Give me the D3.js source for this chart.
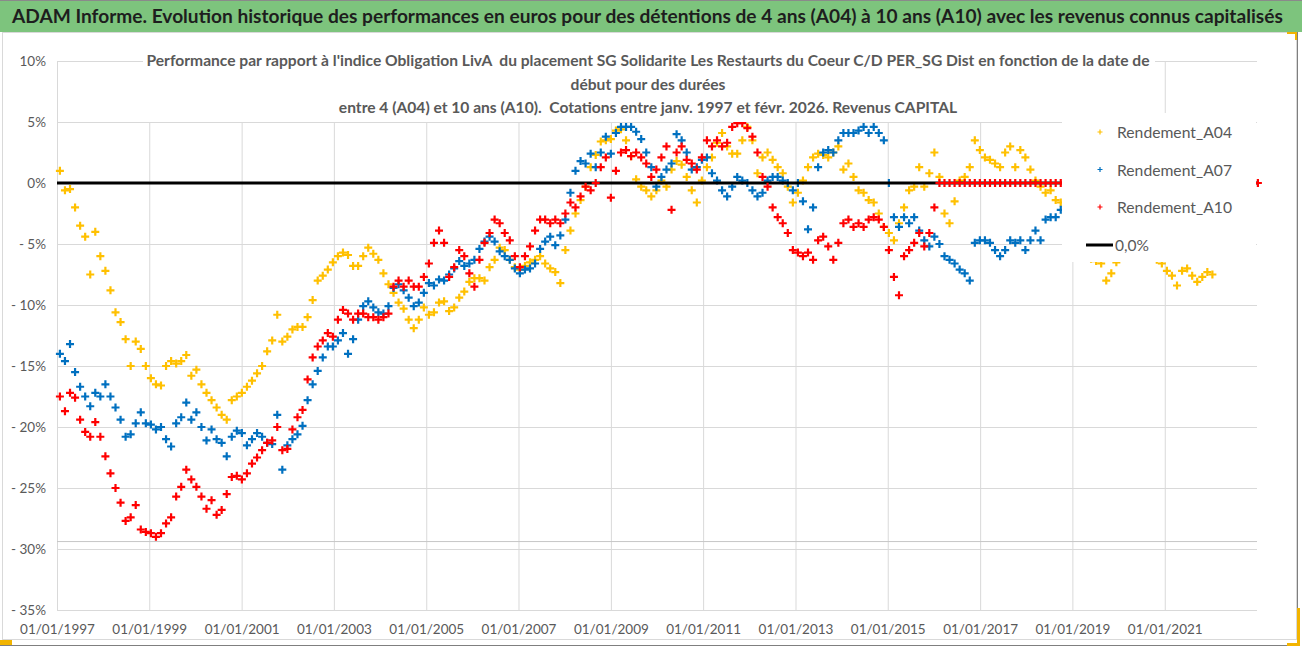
<!DOCTYPE html>
<html>
<head>
<meta charset="utf-8">
<script src="https://cdn.jsdelivr.net/npm/d3@7"></script>
<style>
  body { margin: 0; background: #fff; }
  svg { display: block; font-family: Lato, 'Open Sans', sans-serif; }
</style>
</head>
<body>
<div id="chart"></div>
<script>
// samples every 40 days from 24/01/1997 (start date of the holding), values in %
const sampleStart = new Date(1997, 0, 24);
const sampleStepDays = 40;

const rendementA04 = [
  1.0, -0.6, -0.5, -2.0, -3.5, -4.4, -7.5, -4.0, -6.0, -7.2,
  -8.8, -10.6, -11.4, -12.8, -15.0, -13.0, -13.6, -15.0, -16.0, -16.5,
  -16.6, -15.0, -14.6, -14.8, -14.6, -14.1, -15.8, -15.3, -16.5, -17.2,
  -17.8, -18.4, -19.0, -19.4, -17.8, -17.5, -17.2, -16.7, -16.2, -15.6,
  -15.0, -13.8, -12.9, -10.8, -13.0, -12.6, -12.0, -11.8, -11.8,
  -11.0, -9.6, -8.0, -7.6, -7.1, -6.5, -6.0, -5.7, -5.9, -6.8,
  -6.8, -6.0, -5.3, -5.8, -6.3, -7.4, -8.3, -9.0, -9.8, -10.3,
  -11.2, -11.9, -11.2, -10.2, -10.8, -10.6, -9.8, -9.7, -10.5, -10.2,
  -9.4, -8.9, -8.1, -7.8, -7.8, -8.0, -6.9, -6.3, -5.3, -5.5,
  -6.3, -6.9, -7.1, -6.8, -6.5, -6.3, -6.0, -6.6, -7.0, -7.3,
  -8.2, -5.5, -3.9, -2.5, -1.4, -0.3, 1.3, 2.3, 3.4, 3.5,
  3.6, 4.3, 4.4, 3.5, 2.2, 0.3, -0.3, -0.6, -1.1, -0.6,
  0.2, -0.3, 1.1, 1.8, 1.5, 0.5, -0.6, -1.6, 0.2, 1.3,
  2.1, 3.3, 4.1, 3.0, 2.4, 2.4, 3.5, 4.6, 3.5, 0.8,
  2.1, 2.5, 1.9, 1.3, 0.8, -0.3, -1.6, -0.8, 0.2,
  1.3, 2.1, 2.4, 2.3, 2.1, 2.5, 3.0, 1.1, 1.6, 0.5,
  -0.6, -0.8, -1.4, -1.6, -2.5, -3.6, -4.1, -4.7, -3.3, -2.0,
  -0.6, -0.3, 1.3, -0.3, 0.8, 2.5, 0.5, -2.5, -3.3, -1.5,
  0.2, 0.5, 1.3, 3.5, 2.7, 2.1, 1.9, 1.6, 1.3, 2.5,
  3.0, 1.3, 2.7, 2.1, 1.1, 0.2, -0.3, -0.8, -0.6, -1.4,
  -1.6, -2.5, -3.5, -4.5, -5.2, -5.8, -6.2, -6.4, -6.6, -8.0,
  -7.4, -6.5, -6.0, -5.6, -5.2, -5.0, -5.4, -5.8, -6.0, -6.3,
  -6.6, -7.2, -7.6, -8.4, -7.2, -7.0, -7.6, -8.1, -7.7, -7.3,
  -7.5
];

const rendementA07 = [
  -14.0, -14.6, -13.2, -15.5, -16.7, -17.5, -18.3, -17.2, -17.5, -16.5,
  -17.5, -18.4, -19.4, -20.8, -20.6, -19.7, -18.8, -19.7, -19.8, -20.2,
  -20.0, -21.0, -21.6, -19.7, -19.2, -18.0, -19.4, -18.8, -20.0, -21.1,
  -20.2, -21.0, -21.3, -22.4, -20.8, -20.3, -20.5, -21.5, -21.0, -20.5,
  -20.8, -21.3, -21.4, -19.0, -23.5, -21.5, -21.0, -20.6, -19.9,
  -17.8, -16.5, -15.4, -14.3, -13.4, -13.4, -12.9, -12.3, -14.0, -12.8,
  -11.2, -10.1, -9.7, -10.2, -10.6, -10.7, -10.1, -8.6, -8.3, -8.8,
  -9.4, -10.1, -9.8, -9.0, -8.2, -8.4, -7.9, -8.0, -7.5, -7.0,
  -6.4, -6.8, -6.6, -6.3, -5.4, -4.8, -4.4, -4.8, -5.6, -6.0,
  -6.3, -7.0, -7.4, -7.1, -7.0, -6.6, -5.4, -4.8, -4.4, -5.1,
  -4.3, -3.0, -0.8, 1.0, 1.8, 1.6, 2.4, 1.3, 2.5, 3.8,
  2.4, 4.1, 4.6, 4.6, 4.6, 4.2, 3.6, 2.5, 1.3, -0.3,
  0.5, 1.1, 1.6, 4.0, 3.5, 2.5, 1.1, 1.3, 1.9, 2.1,
  0.8, 0.2, -0.6, -1.1, -0.3, 0.5, 0.2, 0.0, -0.6, -1.1,
  -0.8, 0.2, 0.5, 0.5, 0.2, 0.0, -0.6, 0.0, -1.5,
  -3.8, -2.0, 1.3, 2.5, 2.7, 2.5, 3.5, 4.1, 4.1, 4.1,
  4.3, 4.6, 4.1, 4.6, 4.1, 3.5, 0.0, -2.8, -3.6, -2.8,
  -3.3, -2.8, -3.9, -4.7, -5.2, -4.4, -5.0, -6.0, -6.3, -6.6,
  -7.1, -7.4, -8.0, -4.9, -4.7, -4.7, -4.9, -5.5, -6.0, -5.5,
  -4.7, -4.9, -4.7, -5.5, -4.7, -3.9, -4.7, -3.0, -2.8, -2.8,
  -2.2, -2.0, -2.2, -2.0
];

const rendementA10 = [
  -17.5, -18.7, -17.2, -17.6, -19.4, -20.4, -20.8, -19.6, -20.8, -22.4,
  -23.8, -25.0, -26.2, -27.7, -27.4, -26.4, -28.4, -28.6, -28.7, -29.0,
  -28.7, -27.9, -27.4, -25.7, -24.9, -23.5, -24.3, -24.9, -25.7, -26.7,
  -26.0, -27.2, -26.8, -25.5, -24.1, -24.0, -24.3, -23.8, -23.0, -22.5,
  -21.9, -21.3, -21.1, -20.0, -21.9, -21.8, -20.2, -19.2, -18.6,
  -16.1, -14.3, -13.4, -12.9, -12.3, -12.6, -11.2, -10.4, -10.7, -11.2,
  -10.7, -10.7, -11.0, -11.0, -11.2, -11.0, -10.7, -8.5, -8.0, -8.5,
  -8.0, -8.5, -8.5, -7.7, -6.6, -4.9, -3.9, -4.9, -7.7, -6.9,
  -5.5, -6.0, -7.4, -8.5, -6.3, -4.9, -4.1, -3.0, -3.3, -4.1,
  -4.7, -6.0, -6.9, -6.0, -5.2, -3.9, -3.0, -3.0, -3.3, -3.0,
  -3.3, -2.5, -1.6, -2.0, -1.1, -0.3, -0.6, 0.0, 1.3, 2.1,
  -1.2, 1.0, 2.5, 2.7, 2.2, 2.5, 2.1, 1.6, 0.5, 1.1,
  2.1, 3.0, -2.2, 2.5, 3.0, 1.9, 1.6, 1.1, 2.1, 3.5,
  3.0, 3.5, 3.0, 3.3, 4.6, 4.9, 4.9, 4.5, 3.8, 2.5,
  0.5, -0.3, -2.0, -2.8, -3.3, -4.1, -5.5, -5.7, -6.0,
  -5.7, -6.3, -4.7, -4.4, -5.2, -6.3, -4.9, -3.3, -3.0, -3.6,
  -3.3, -3.6, -3.0, -2.8, -3.0, -3.6, -5.5, -7.7, -9.2, -6.0,
  -5.5, -4.9, -4.1, -5.2, -4.1, -2.0,
  0, 0, 0, 0, 0, 0, 0, 0, 0, 0, 0, 0, 0, 0, 0, 0,
  0, 0, 0, 0, 0, 0, 0, 0, 0, 0, 0, 0, 0, 0, 0, 0,
  0, 0, 0, 0, 0, 0, 0, 0, 0, 0, 0, 0, 0, 0, 0, 0,
  0, 0, 0, 0, 0, 0, 0, 0, 0, 0, 0, 0, 0, 0, 0, 0
];

const seriesNames = ['Rendement_A04', 'Rendement_A07', 'Rendement_A10'];
const seriesColors = ['#FFC000', '#0070C0', '#FF0000'];
const zeroLineLabel = '0,0%';
const yTicks = [-35, -30, -25, -20, -15, -10, -5, 0, 5, 10];
const xTickYears = [1997, 1999, 2001, 2003, 2005, 2007, 2009, 2011, 2013, 2015, 2017, 2019, 2021];
const xDomainYears = [1997, 2023];
const refLineValue = -29.35;

const headerTitle = 'ADAM Informe. Evolution historique des performances en euros pour des détentions de 4 ans (A04) à 10 ans (A10) avec les revenus connus capitalisés';
const chartTitleLines = [
  "Performance par rapport à l'indice Obligation LivA  du placement SG Solidarite Les Restaurts du Coeur C/D PER_SG Dist en fonction de la date de",
  'début pour des durées',
  'entre 4 (A04) et 10 ans (A10).  Cotations entre janv. 1997 et févr. 2026. Revenus CAPITAL'
];

let chart_width = 1302;
let chart_height = 647;
let plot = { left: 57, right: 1257, top: 61, bottom: 610 };
let grey_text = '#595959';
let grid_color = '#d9d9d9';

let svg = d3.select('#chart')
            .append('svg')
            .attr('width', chart_width)
            .attr('height', chart_height);

// header band + frame
svg.append('rect')
  .attr('x', 0).attr('y', 0)
  .attr('width', chart_width).attr('height', 32)
  .attr('fill', '#7dc47d');
svg.append('line')
  .attr('x1', 0).attr('x2', chart_width).attr('y1', 0.5).attr('y2', 0.5)
  .attr('stroke', '#8a8a8a');
svg.append('rect')
  .attr('x', 2.5).attr('y', 32.5)
  .attr('width', 1294).attr('height', 607)
  .attr('fill', 'none').attr('stroke', grid_color);
svg.append('line')
  .attr('x1', 0).attr('x2', 1298).attr('y1', 645.5).attr('y2', 645.5)
  .attr('stroke', '#7f7f7f');
svg.append('line')
  .attr('x1', 1297.5).attr('x2', 1297.5).attr('y1', 32).attr('y2', 646)
  .attr('stroke', '#7f7f7f');

let header = svg.append('text')
  .attr('x', 12).attr('y', 23)
  .attr('font-weight', 'bold')
  .attr('font-size', 20)
  .attr('fill', '#1e1e1e')
  .text(headerTitle);
shrinkTo(header, 1272);

// scales
let x_scale = d3.scaleTime()
                .domain(xDomainYears.map(yr => new Date(yr, 0, 1)))
                .range([plot.left, plot.right]);

let y_scale = d3.scaleLinear()
                .domain([d3.min(yTicks), d3.max(yTicks)])
                .range([plot.bottom, plot.top]);

// axes with gridlines
let pctFormat = v => v < 0 ? '- ' + Math.abs(v) + '%' : v + '%';

let y_axis = d3.axisLeft(y_scale)
  .tickValues(yTicks)
  .tickFormat(pctFormat)
  .tickSize(-(plot.right - plot.left))
  .tickPadding(11);

svg.append('g')
  .attr('class', 'y-axis')
  .attr('transform', 'translate(' + plot.left + ',0)')
  .call(y_axis)
  .call(styleAxis);

let x_axis = d3.axisBottom(x_scale)
  .tickValues(xTickYears.map(yr => new Date(yr, 0, 1)))
  .tickFormat(d3.timeFormat('%d/%m/%Y'))
  .tickSize(-(plot.bottom - plot.top))
  .tickPadding(14);

svg.append('g')
  .attr('class', 'x-axis')
  .attr('transform', 'translate(0,' + plot.bottom + ')')
  .call(x_axis)
  .call(styleAxis);

function styleAxis(g) {
  g.attr('font-family', null).attr('font-size', null);
  g.select('.domain').remove();
  g.selectAll('.tick line').attr('stroke', grid_color);
  g.selectAll('.tick text').attr('fill', grey_text).style('font-size', '13.5px');
}

// axis lines
svg.append('line')
  .attr('x1', plot.left + 0.5).attr('x2', plot.left + 0.5)
  .attr('y1', plot.top).attr('y2', plot.bottom)
  .attr('stroke', grid_color);
svg.append('line')
  .attr('x1', plot.left).attr('x2', plot.right)
  .attr('y1', y_scale(refLineValue) + 0.5).attr('y2', y_scale(refLineValue) + 0.5)
  .attr('stroke', '#c6c6c6');

// series, drawn as "+" markers
let plusPath = 'M-4,0H4M0,-4V4';

function drawSeries(values, color) {
  let points = values.map((v, i) => ({
    date: d3.timeDay.offset(sampleStart, i * sampleStepDays),
    value: v
  }));
  svg.append('g')
    .selectAll('path')
    .data(points)
    .enter()
    .append('path')
    .attr('d', plusPath)
    .attr('transform', d => 'translate(' + x_scale(d.date) + ',' + y_scale(d.value) + ')')
    .attr('fill', 'none')
    .attr('stroke', color)
    .attr('stroke-width', 2.2);
}

drawSeries(rendementA04, seriesColors[0]);
drawSeries(rendementA07, seriesColors[1]);

svg.append('line')
  .attr('x1', x_scale(new Date(xDomainYears[0], 0, 1)))
  .attr('x2', x_scale(new Date(xDomainYears[1], 0, 1)))
  .attr('y1', y_scale(0)).attr('y2', y_scale(0))
  .attr('stroke', '#000')
  .attr('stroke-width', 3);

drawSeries(rendementA10, seriesColors[2]);

// chart title (sits over the plot)
svg.append('rect')
  .attr('x', 143).attr('y', 44)
  .attr('width', 1012).attr('height', 78)
  .attr('fill', '#fff');

let titleBase = [66, 89.5, 113];
let titleNodes = chartTitleLines.map((line, i) =>
  svg.append('text')
    .attr('x', 648).attr('y', titleBase[i])
    .attr('text-anchor', 'middle')
    .attr('font-weight', 'bold')
    .attr('font-size', 16)
    .attr('fill', grey_text)
    .attr('xml:space', 'preserve')
    .text(line));
let ratio = 1003 / titleNodes[0].node().getComputedTextLength();
titleNodes.forEach(t => fitWidth(t, t.node().getComputedTextLength() * ratio));

// legend
svg.append('rect')
  .attr('x', 1062).attr('y', 113)
  .attr('width', 194).attr('height', 149)
  .attr('fill', '#fff');

let legendY = [132, 169.5, 207, 245];
seriesNames.forEach((name, i) => {
  svg.append('path')
    .attr('d', 'M-2.5,0H2.5M0,-2.5V2.5')
    .attr('transform', 'translate(1100,' + legendY[i] + ')')
    .attr('fill', 'none')
    .attr('stroke', seriesColors[i])
    .attr('stroke-width', 1.2);
  let t = svg.append('text')
    .attr('x', 1117).attr('y', legendY[i] + 6)
    .attr('font-size', 16)
    .attr('fill', grey_text)
    .text(name);
  fitWidth(t, 115);
});
svg.append('line')
  .attr('x1', 1086).attr('x2', 1113)
  .attr('y1', legendY[3]).attr('y2', legendY[3])
  .attr('stroke', '#000').attr('stroke-width', 3);
let zl = svg.append('text')
  .attr('x', 1115).attr('y', legendY[3] + 6)
  .attr('font-size', 16)
  .attr('fill', grey_text)
  .text(zeroLineLabel);
fitWidth(zl, 34);

// selection handles of the chart object
let handle = '#f2b400';
svg.append('rect').attr('x', 1287).attr('y', 32).attr('width', 10).attr('height', 2).attr('fill', handle);
svg.append('rect').attr('x', 1295).attr('y', 32).attr('width', 2).attr('height', 8).attr('fill', handle);
svg.append('rect').attr('x', 0).attr('y', 640).attr('width', 12).attr('height', 5).attr('fill', handle);
svg.append('rect').attr('x', 1297).attr('y', 608).attr('width', 3).attr('height', 38).attr('fill', handle);
svg.append('rect').attr('x', 1287).attr('y', 643).attr('width', 13).attr('height', 3).attr('fill', handle);

function fitWidth(sel, w) {
  sel.attr('textLength', w).attr('lengthAdjust', 'spacingAndGlyphs');
}

function shrinkTo(sel, w) {
  let natural = sel.node().getComputedTextLength();
  if (natural > w) {
    sel.attr('font-size', +sel.attr('font-size') * w / natural);
  }
}
</script>
</body>
</html>
